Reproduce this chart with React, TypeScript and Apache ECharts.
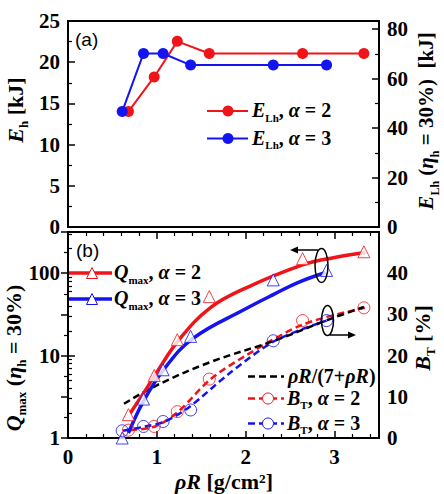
import React, { useEffect, useRef } from "react";
import * as echarts from "echarts";

// ρR of the simulated targets [g/cm²]
const rhoR2 = [0.68, 0.97, 1.23, 1.59, 2.64, 3.33];
const rhoR3 = [0.61, 0.85, 1.07, 1.38, 2.31, 2.91];

// (a) laser energy E_Lh [kJ] needed for η_h = 30%
const eLh2 = [46.7, 60.7, 75.1, 70.2, 70.2, 70.2];
const eLh3 = [46.7, 70.2, 70.2, 65.5, 65.5, 65.5];

// (b) maximum gain Q_max
const qMax2 = [1.92, 5.74, 15.6, 52, 150, 182];
const qMax3 = [1.0, 2.97, 6.73, 17.1, 83, 108];

// smooth fits through Q_max
const qFitX2 = [0.7, 0.85, 1.0, 1.25, 1.6, 2.0, 2.64, 3.0, 3.35];
const qFitY2 = [2.0, 3.5, 6.3, 15.6, 38, 66, 126, 155, 178];
const qFitX3 = [0.68, 0.85, 1.07, 1.4, 2.0, 2.31, 2.6, 2.9];
const qFitY3 = [1.15, 2.8, 6.6, 16, 37, 55, 78, 102];

// (b) burn-up fraction B_T [%]
const bT2 = [1.9, 2.8, 6.4, 14.3, 28.5, 31.6];
const bT3 = [1.75, 2.8, 4.0, 6.8, 23.6, 28.5];

// dashed trends of B_T
const bFitX2 = [0.7, 0.98, 1.24, 1.6, 2.0, 2.65, 3.34];
const bFitY2 = [1.9, 2.8, 6.4, 14.2, 20, 27.6, 31.6];
const bFitX3 = [0.62, 0.87, 1.09, 1.37, 1.8, 2.33, 2.91];
const bFitY3 = [1.75, 2.8, 4.0, 7.6, 15.4, 23.6, 28.5];

// ρR/(7+ρR) reference curve [%]
const refX = [0.63, 1.0, 1.6, 2.32, 2.94, 3.33];
const refY = [8.3, 12.8, 18.4, 23.6, 28.8, 31.8];

// minor tick positions
const xMinorTicks = [0.2, 0.4, 0.6, 0.8, 1.2, 1.4, 1.6, 1.8, 2.2, 2.4, 2.6, 2.8, 3.2, 3.4];
const eLhMinorTicks = [10, 30, 50, 70];
const logMinorTicks = [2, 3, 4, 5, 6, 7, 8, 9, 20, 30, 40, 50, 60, 70, 80, 90, 200, 300];

const RED = "#f01418";
const BLUE = "#1414f0";
const SERIF = "Liberation Serif, serif";
const SANS = "Liberation Sans, sans-serif";

const pts = (xs: number[], ys: number[]) => xs.map((x, i) => [x, ys[i]]);

const richSet = (size: number, sub: number) => ({
  i: { fontFamily: SERIF, fontSize: size, fontWeight: "bold", fontStyle: "italic", lineHeight: size + 2, verticalAlign: "top", color: "#000" },
  n: { fontFamily: SERIF, fontSize: size, fontWeight: "bold", lineHeight: size + 2, verticalAlign: "top", color: "#000" },
  s: { fontFamily: SERIF, fontSize: sub, fontWeight: "bold", lineHeight: sub, padding: [Math.round(size * 0.6), 0, 0, 0], verticalAlign: "top", color: "#000" },
});

const richText = (x: number, y: number, text: string, size: number, sub: number, rotate = false, align = "left") => ({
  type: "text",
  x,
  y,
  rotation: rotate ? Math.PI / 2 : 0,
  z: 100,
  style: {
    text,
    rich: richSet(size, sub),
    fontFamily: SERIF,
    align,
    textAlign: align,
    verticalAlign: "middle",
    textVerticalAlign: "middle",
  },
});

const majorTick = { show: true, inside: true, length: 7, lineStyle: { color: "#000", width: 1.5 } };
const minorTickStyle = { color: "#000", width: 1.2 };
const labelStyle = { fontFamily: SERIF, fontWeight: "bold", fontSize: 21, color: "#000" };
const noLine = { show: false };
const noSplit = { show: false };

const triangle = (cx: number, cy: number, s: number) => [
  [cx, cy - s / 2],
  [cx + s / 2, cy + s / 2],
  [cx - s / 2, cy + s / 2],
];

export default function App() {
  const ref = useRef<HTMLDivElement>(null);

  useEffect(() => {
    if (!ref.current) return;
    const chart = echarts.init(ref.current, null, { renderer: "svg" });

    const isPow10 = (v: number) => {
      const l = Math.log10(v);
      return Math.abs(l - Math.round(l)) < 1e-6;
    };

    const graphic: any[] = [
      // panel tags
      { type: "text", x: 75, y: 39, z: 100, style: { text: "(a)", fontFamily: SANS, fontSize: 19, fill: "#000", verticalAlign: "middle", textVerticalAlign: "middle" } },
      { type: "text", x: 76, y: 250, z: 100, style: { text: "(b)", fontFamily: SANS, fontSize: 19, fill: "#000", verticalAlign: "middle", textVerticalAlign: "middle" } },

      // axis titles
      richText(16, 110, "{i|E}{s|h}{n| [kJ]}", 22, 13, true, "center"),
      richText(427, 121, "{i|E}{s|Lh}{n| (}{i|η}{s|h}{n| = 30%)  [kJ]}", 21, 12, true, "center"),
      richText(14, 358, "{i|Q}{s|max}{n| (}{i|η}{s|h}{n| = 30%)}", 22, 13, true, "center"),
      richText(423, 338, "{i|B}{s|T}{n| [%]}", 22, 13, true, "center"),
      richText(224, 482, "{i|ρR}{n| [g/cm²]}", 22, 13, false, "center"),

      // legend of panel (a)
      { type: "line", z: 100, shape: { x1: 207, y1: 111, x2: 248, y2: 111 }, style: { stroke: RED, lineWidth: 2 } },
      { type: "circle", z: 101, shape: { cx: 228, cy: 111, r: 5.5 }, style: { fill: RED } },
      richText(252, 111, "{i|E}{s|Lh}{n|, }{i|α}{n| = 2}", 20, 11),
      { type: "line", z: 100, shape: { x1: 207, y1: 138.5, x2: 248, y2: 138.5 }, style: { stroke: BLUE, lineWidth: 2 } },
      { type: "circle", z: 101, shape: { cx: 228, cy: 138.5, r: 5.5 }, style: { fill: BLUE } },
      richText(252, 138.5, "{i|E}{s|Lh}{n|, }{i|α}{n| = 3}", 20, 11),

      // legend of panel (b), gain
      { type: "line", z: 100, shape: { x1: 69, y1: 273, x2: 112, y2: 273 }, style: { stroke: RED, lineWidth: 3.5 } },
      { type: "polygon", z: 101, shape: { points: triangle(92, 273, 11) }, style: { fill: "#fff", stroke: RED, lineWidth: 1 } },
      richText(114, 273, "{i|Q}{s|max}{n|, }{i|α}{n| = 2}", 20, 11),
      { type: "line", z: 100, shape: { x1: 69, y1: 299, x2: 112, y2: 299 }, style: { stroke: BLUE, lineWidth: 3.5 } },
      { type: "polygon", z: 101, shape: { points: triangle(92, 299, 11) }, style: { fill: "#fff", stroke: BLUE, lineWidth: 1 } },
      richText(114, 299, "{i|Q}{s|max}{n|, }{i|α}{n| = 3}", 20, 11),

      // legend of panel (b), burn-up
      { type: "line", z: 100, shape: { x1: 248, y1: 376.5, x2: 284, y2: 376.5 }, style: { stroke: "#000", lineWidth: 2.5, lineDash: [7, 4] } },
      richText(288, 376.5, "{i|ρR}{n|/(7+}{i|ρR}{n|)}", 20, 11),
      { type: "line", z: 100, shape: { x1: 248, y1: 398.5, x2: 284, y2: 398.5 }, style: { stroke: RED, lineWidth: 2.5, lineDash: [7, 4] } },
      { type: "circle", z: 101, shape: { cx: 268, cy: 398.5, r: 5.5 }, style: { fill: "#fff", stroke: RED, lineWidth: 1 } },
      richText(287, 398.5, "{i|B}{s|T}{n|, }{i|α}{n| = 2}", 20, 11),
      { type: "line", z: 100, shape: { x1: 248, y1: 423.5, x2: 284, y2: 423.5 }, style: { stroke: BLUE, lineWidth: 2.5, lineDash: [7, 4] } },
      { type: "circle", z: 101, shape: { cx: 268, cy: 423.5, r: 5.5 }, style: { fill: "#fff", stroke: BLUE, lineWidth: 1 } },
      richText(287, 423.5, "{i|B}{s|T}{n|, }{i|α}{n| = 3}", 20, 11),

      // axis pointers: Q_max -> left axis, B_T -> right axis
      { type: "ellipse", z: 100, shape: { cx: 321.5, cy: 265.5, rx: 6.5, ry: 17 }, style: { fill: "none", stroke: "#000", lineWidth: 1.5 } },
      { type: "line", z: 100, shape: { x1: 318, y1: 250, x2: 297, y2: 250 }, style: { stroke: "#000", lineWidth: 1.5 } },
      { type: "polygon", z: 100, shape: { points: [[290, 250], [298, 246.5], [298, 253.5]] }, style: { fill: "#000" } },
      { type: "ellipse", z: 100, shape: { cx: 327.5, cy: 320.5, rx: 6, ry: 15 }, style: { fill: "none", stroke: "#000", lineWidth: 1.5 } },
      { type: "line", z: 100, shape: { x1: 330, y1: 335, x2: 349, y2: 335 }, style: { stroke: "#000", lineWidth: 1.5 } },
      { type: "polygon", z: 100, shape: { points: [[356, 335], [348, 331.5], [348, 338.5]] }, style: { fill: "#000" } },
    ];

    const frame = { show: true, borderColor: "#000", borderWidth: 2, backgroundColor: "transparent" };

    chart.setOption({
      animation: false,
      backgroundColor: "#fff",
      textStyle: { fontFamily: SERIF },
      grid: [
        { left: 68, top: 21, width: 311, height: 206, ...frame },
        { left: 68, top: 232, width: 311, height: 206, ...frame },
      ],
      xAxis: [
        { gridIndex: 0, type: "value", min: 0, max: 3.5, interval: 1, position: "bottom", axisLine: noLine, axisTick: { show: false }, axisLabel: { show: false }, splitLine: noSplit },
        {
          gridIndex: 1, type: "value", min: 0, max: 3.5, interval: 1, position: "bottom", axisLine: noLine, axisTick: majorTick, splitLine: noSplit,
          axisLabel: { ...labelStyle, margin: 8, formatter: (v: number) => (Math.abs(v - Math.round(v)) < 1e-6 ? String(Math.round(v)) : "") },
        },
        { gridIndex: 1, type: "value", min: 0, max: 3.5, interval: 1, position: "top", axisLine: noLine, axisTick: majorTick, axisLabel: { show: false }, splitLine: noSplit },
        { gridIndex: 1, type: "value", min: 0, max: 3.5, position: "bottom", axisLine: noLine, axisLabel: { show: false }, splitLine: noSplit, axisTick: { show: true, inside: true, length: 4, lineStyle: minorTickStyle, customValues: xMinorTicks } },
        { gridIndex: 1, type: "value", min: 0, max: 3.5, position: "top", axisLine: noLine, axisLabel: { show: false }, splitLine: noSplit, axisTick: { show: true, inside: true, length: 4, lineStyle: minorTickStyle, customValues: xMinorTicks } },
      ],
      yAxis: [
        {
          gridIndex: 0, type: "value", min: 0, max: 25, interval: 5, position: "left", axisLine: noLine, axisTick: majorTick, splitLine: noSplit,
          minorTick: { show: true, splitNumber: 2, length: 4, lineStyle: minorTickStyle }, minorSplitLine: { show: false },
          axisLabel: { ...labelStyle, margin: 8 },
        },
        {
          gridIndex: 0, type: "value", min: 0, max: 25 / 0.3, interval: 20, position: "right", axisLine: noLine, axisTick: majorTick, splitLine: noSplit,
          axisLabel: { ...labelStyle, margin: 8, formatter: (v: number) => (v <= 80.5 ? String(v) : "") },
        },
        { gridIndex: 0, type: "value", min: 0, max: 25 / 0.3, position: "right", axisLine: noLine, axisLabel: { show: false }, splitLine: noSplit, axisTick: { show: true, inside: true, length: 4, lineStyle: minorTickStyle, customValues: eLhMinorTicks } },
        {
          gridIndex: 1, type: "log", logBase: 10, min: 1, max: 316.2, position: "left", axisLine: noLine, axisTick: majorTick, splitLine: noSplit,
          axisLabel: { ...labelStyle, margin: 8, formatter: (v: number) => (isPow10(v) && v < 200 ? String(Math.round(v)) : "") },
        },
        { gridIndex: 1, type: "log", logBase: 10, min: 1, max: 316.2, position: "left", axisLine: noLine, axisLabel: { show: false }, splitLine: noSplit, axisTick: { show: true, inside: true, length: 4, lineStyle: minorTickStyle, customValues: logMinorTicks } },
        {
          gridIndex: 1, type: "value", min: 0, max: 50, interval: 10, position: "right", axisLine: noLine, axisTick: majorTick, splitLine: noSplit,
          minorTick: { show: true, splitNumber: 2, length: 4, lineStyle: minorTickStyle }, minorSplitLine: { show: false },
          axisLabel: { ...labelStyle, margin: 8, formatter: (v: number) => (v < 49 ? String(v) : "") },
        },
      ],
      series: [
        // (a)
        { type: "line", xAxisIndex: 0, yAxisIndex: 1, data: pts(rhoR2, eLh2), symbol: "circle", symbolSize: 11, lineStyle: { color: RED, width: 2 }, itemStyle: { color: RED }, z: 3 },
        { type: "line", xAxisIndex: 0, yAxisIndex: 1, data: pts(rhoR3, eLh3), symbol: "circle", symbolSize: 11, lineStyle: { color: BLUE, width: 2 }, itemStyle: { color: BLUE }, z: 4 },

        // (b) burn-up trends
        { type: "line", xAxisIndex: 1, yAxisIndex: 5, data: pts(bFitX2, bFitY2), smooth: 0.3, symbol: "none", lineStyle: { color: RED, width: 2.5, type: [7, 4] }, z: 2 },
        { type: "line", xAxisIndex: 1, yAxisIndex: 5, data: pts(bFitX3, bFitY3), smooth: 0.3, symbol: "none", lineStyle: { color: BLUE, width: 2.5, type: [7, 4] }, z: 2 },
        { type: "line", xAxisIndex: 1, yAxisIndex: 5, data: pts(refX, refY), smooth: 0.4, symbol: "none", lineStyle: { color: "#000", width: 2.5, type: [7, 4] }, z: 3 },

        // (b) gain fits
        { type: "line", xAxisIndex: 1, yAxisIndex: 3, data: pts(qFitX2, qFitY2), smooth: 0.4, symbol: "none", lineStyle: { color: RED, width: 3.5 }, z: 4 },
        { type: "line", xAxisIndex: 1, yAxisIndex: 3, data: pts(qFitX3, qFitY3), smooth: 0.4, symbol: "none", lineStyle: { color: BLUE, width: 3.5 }, z: 4 },

        // (b) markers
        { type: "scatter", xAxisIndex: 1, yAxisIndex: 3, data: pts(rhoR2, qMax2), symbol: "triangle", symbolSize: 12, itemStyle: { color: "#fff", borderColor: RED, borderWidth: 1 }, z: 5 },
        { type: "scatter", xAxisIndex: 1, yAxisIndex: 3, data: pts(rhoR3, qMax3), symbol: "triangle", symbolSize: 12, itemStyle: { color: "#fff", borderColor: BLUE, borderWidth: 1 }, z: 5 },
        { type: "scatter", xAxisIndex: 1, yAxisIndex: 5, data: pts(rhoR2, bT2), symbol: "circle", symbolSize: 12, itemStyle: { color: "rgba(255,255,255,0)", borderColor: RED, borderWidth: 1 }, z: 5 },
        { type: "scatter", xAxisIndex: 1, yAxisIndex: 5, data: pts(rhoR3, bT3), symbol: "circle", symbolSize: 12, itemStyle: { color: "rgba(255,255,255,0)", borderColor: BLUE, borderWidth: 1 }, z: 5 },
      ],
      graphic,
    });

    return () => chart.dispose();
  }, []);

  return <div ref={ref} style={{ position: "fixed", left: 0, top: 0, width: 444, height: 494 }} />;
}
